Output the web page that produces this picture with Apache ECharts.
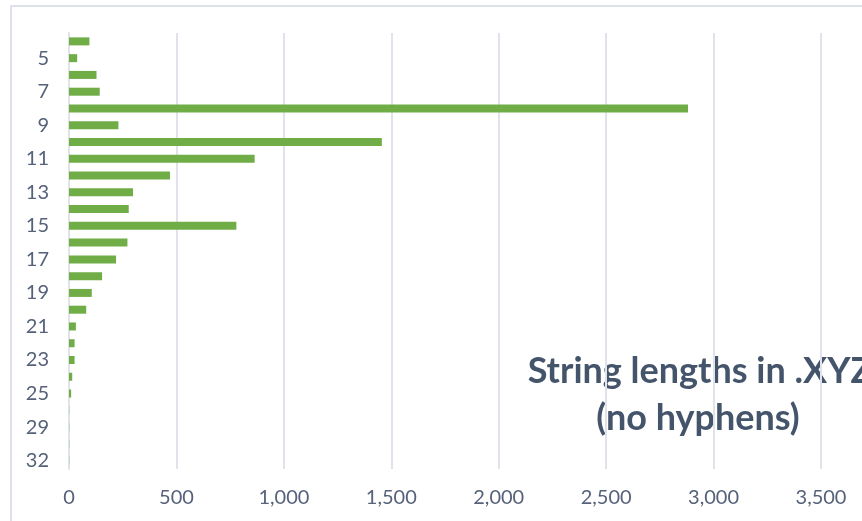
<!DOCTYPE html>
<html>
<head>
<meta charset="utf-8">
<script src="https://cdn.jsdelivr.net/npm/echarts@6/dist/echarts.min.js"></script>
<style>
  html, body { margin: 0; padding: 0; background: #ffffff; }
  #chart { width: 862px; height: 521px; }
</style>
</head>
<body>
<div id="chart"></div>
<script>
// String length (characters) and how many names have that length
const lengths = ['4','5','6','7','8','9','10','11','12','13','14','15','16','17','18','19','20','21','22','23','24','25','27','29','30','32'];
const counts  = [95, 38, 128, 143, 2881, 230, 1456, 864, 470, 298, 278, 779, 272, 219, 154, 106, 80, 32, 26, 26, 15, 10, 1, 1, 1, 1];
const valueTicks = { min: 0, max: 3500, step: 500 };
const titleLines = ['String lengths in .XYZ', '(no hyphens)'];

const slate = '#44546a';
const labelColor = '#56627a';
const gridColor = '#e0e4ea';

const chart = echarts.init(document.getElementById('chart'), null, { renderer: 'canvas' });

chart.setOption({
  backgroundColor: '#ffffff',
  animation: false,
  grid: { left: 69, right: 41, top: 33, bottom: 52, containLabel: false },
  xAxis: {
    type: 'value',
    z: 1,
    min: valueTicks.min,
    max: valueTicks.max,
    interval: valueTicks.step,
    axisLine: { show: false },
    axisTick: { show: false },
    splitLine: { show: true, lineStyle: { color: gridColor, width: 2 } },
    axisLabel: {
      color: labelColor,
      fontFamily: 'Lato',
      fontSize: 20,
      margin: 19,
      formatter: v => v.toLocaleString('en-US')
    }
  },
  yAxis: {
    type: 'category',
    data: lengths,
    inverse: true,
    axisLine: { show: true, lineStyle: { color: gridColor, width: 2 } },
    axisTick: { show: false },
    axisLabel: {
      color: labelColor,
      fontFamily: 'Lato',
      fontSize: 20,
      margin: 20,
      interval: (i) => i % 2 === 1
    }
  },
  series: [{
    type: 'bar',
    data: counts,
    barWidth: 8,
    itemStyle: { color: '#70ad47' },
    z: 2
  }],
  graphic: [
    {
      type: 'rect',
      z: -10,
      shape: { x: 11, y: 6, width: 900, height: 560 },
      style: { fill: 'none', stroke: '#dde2ea', lineWidth: 2 }
    },
    {
      type: 'text',
      z: -5,
      x: 700,
      y: 371,
      style: {
        text: titleLines[0],
        fill: slate,
        font: 'bold 36px Lato',
        align: 'center',
        verticalAlign: 'middle'
      }
    },
    {
      type: 'text',
      z: -5,
      x: 698,
      y: 418,
      style: {
        text: titleLines[1],
        fill: slate,
        font: 'bold 36px Lato',
        align: 'center',
        verticalAlign: 'middle'
      }
    }
  ]
});
</script>
</body>
</html>
